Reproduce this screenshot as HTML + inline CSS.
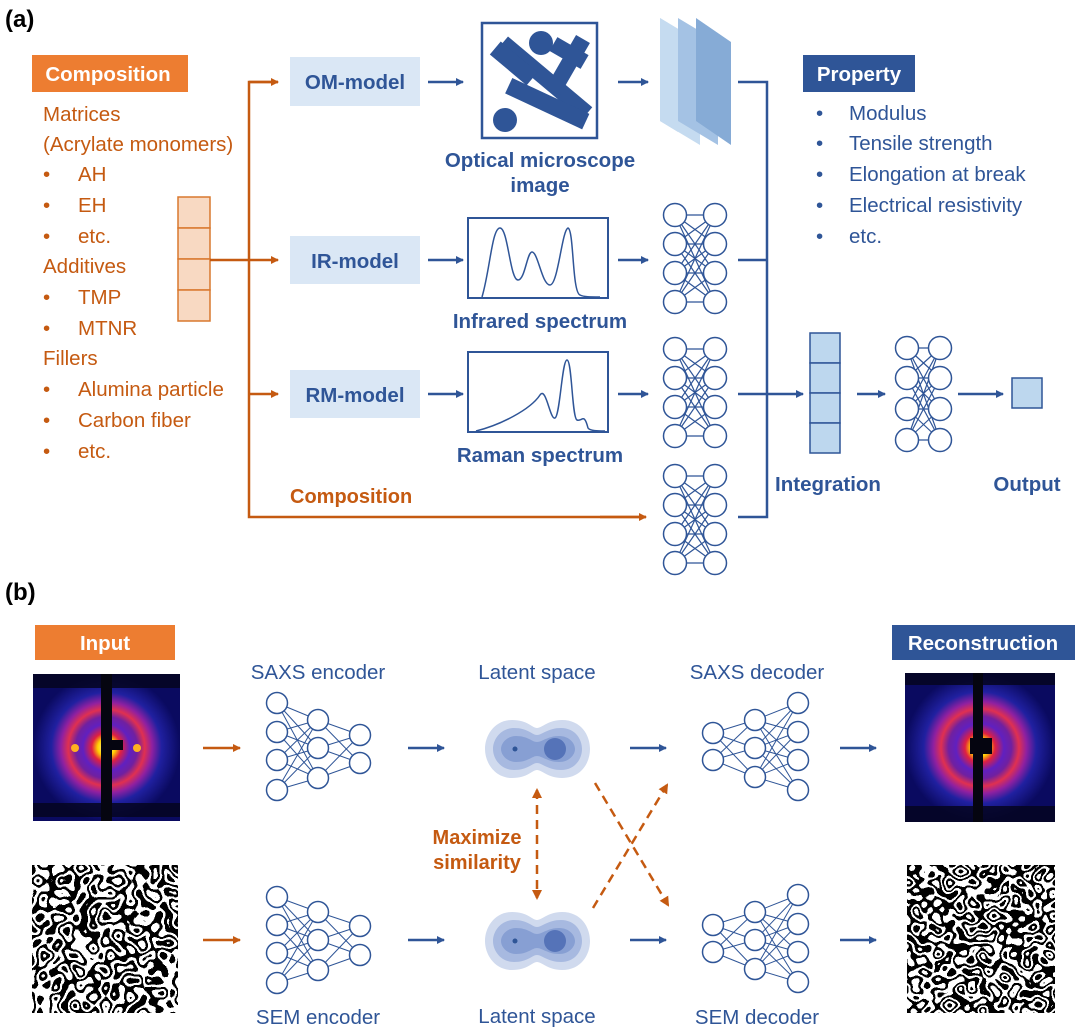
<!DOCTYPE html>
<html><head><meta charset="utf-8"><style>
html,body{margin:0;padding:0;background:#fff;}
svg{display:block;font-family:"Liberation Sans",Arial,sans-serif;}
</style></head><body>
<svg id="s" width="1080" height="1033" viewBox="0 0 1080 1033" xmlns="http://www.w3.org/2000/svg">
<defs>
<marker id="ab" markerWidth="8" markerHeight="8" refX="7" refY="4" orient="auto" markerUnits="userSpaceOnUse"><path d="M0,0 L8,4 L0,8 z" fill="#2F5597"/></marker>
<marker id="ao" markerWidth="8" markerHeight="8" refX="7" refY="4" orient="auto" markerUnits="userSpaceOnUse"><path d="M0,0 L8,4 L0,8 z" fill="#C55A11"/></marker>
<marker id="ao2" markerWidth="10" markerHeight="10" refX="8" refY="5" orient="auto-start-reverse" markerUnits="userSpaceOnUse"><path d="M0,0 L10,5 L0,10 z" fill="#C55A11"/></marker>
<radialGradient id="saxs" cx="0.5" cy="0.5" r="0.5">
<stop offset="0" stop-color="#fff8c0"/><stop offset="0.12" stop-color="#ffd000"/><stop offset="0.2" stop-color="#e02040"/>
<stop offset="0.32" stop-color="#6020c0"/><stop offset="0.42" stop-color="#7020a0"/><stop offset="0.52" stop-color="#e03050"/>
<stop offset="0.62" stop-color="#9020a0"/><stop offset="0.75" stop-color="#2020a0"/><stop offset="1" stop-color="#0a0a60"/>
</radialGradient>
<filter id="lab" x="0" y="0" width="1" height="1">
<feTurbulence type="fractalNoise" baseFrequency="0.08" numOctaves="1" seed="3"/>
<feColorMatrix type="matrix" values="1 0 0 0 0 1 0 0 0 0 1 0 0 0 0 0 0 0 0 1"/>
<feComponentTransfer><feFuncR type="discrete" tableValues="1 0 1 0 1 0 1 0 1 0"/><feFuncG type="discrete" tableValues="1 0 1 0 1 0 1 0 1 0"/><feFuncB type="discrete" tableValues="1 0 1 0 1 0 1 0 1 0"/></feComponentTransfer>
</filter>
<filter id="lab2" x="0" y="0" width="1" height="1">
<feTurbulence type="fractalNoise" baseFrequency="0.09" numOctaves="1" seed="7"/>
<feColorMatrix type="matrix" values="1 0 0 0 0 1 0 0 0 0 1 0 0 0 0 0 0 0 0 1"/>
<feComponentTransfer><feFuncR type="discrete" tableValues="1 0 1 0 1 0 1 0 1 0"/><feFuncG type="discrete" tableValues="1 0 1 0 1 0 1 0 1 0"/><feFuncB type="discrete" tableValues="1 0 1 0 1 0 1 0 1 0"/></feComponentTransfer>
</filter>
</defs>

<text x="5" y="27" font-size="24" font-weight="bold">(a)</text>
<rect x="32" y="55" width="156" height="37" fill="#ED7D31"/>
<text x="108" y="81" font-size="20.5" font-weight="bold" fill="#fff" text-anchor="middle">Composition</text>
<g font-size="20.5" fill="#C55A11">
<text x="43" y="121">Matrices</text>
<text x="43" y="151">(Acrylate monomers)</text>
<text x="43" y="181">•</text><text x="78" y="181">AH</text>
<text x="43" y="212">•</text><text x="78" y="212">EH</text>
<text x="43" y="243">•</text><text x="78" y="243">etc.</text>
<text x="43" y="273">Additives</text>
<text x="43" y="304">•</text><text x="78" y="304">TMP</text>
<text x="43" y="335">•</text><text x="78" y="335">MTNR</text>
<text x="43" y="365">Fillers</text>
<text x="43" y="396">•</text><text x="78" y="396">Alumina particle</text>
<text x="43" y="427">•</text><text x="78" y="427">Carbon fiber</text>
<text x="43" y="458">•</text><text x="78" y="458">etc.</text>
</g>
<g fill="#F8D9C2" stroke="#D9782E" stroke-width="1.5">
<rect x="178" y="197" width="32" height="31"/><rect x="178" y="228" width="32" height="31"/><rect x="178" y="259" width="32" height="31"/><rect x="178" y="290" width="32" height="31"/>
</g>
<g stroke="#C55A11" stroke-width="2.5" fill="none">
<path d="M210,260 H278" marker-end="url(#ao)"/>
<path d="M278,82 H249 V517 H646" />
<path d="M249,82 H278" marker-end="url(#ao)"/>
<path d="M249,394 H278" marker-end="url(#ao)"/>
<path d="M600,517 H646" marker-end="url(#ao)"/>
</g>
<text x="290" y="503" font-size="20" font-weight="bold" fill="#C55A11">Composition</text>

<g fill="#DAE7F5"><rect x="290" y="57" width="130" height="49"/><rect x="290" y="236" width="130" height="48"/><rect x="290" y="370" width="130" height="48"/></g>
<g font-size="20.5" font-weight="bold" fill="#2F5597" text-anchor="middle">
<text x="355" y="89">OM-model</text><text x="355" y="268">IR-model</text><text x="355" y="402">RM-model</text>
<text x="540" y="167">Optical microscope</text><text x="540" y="192">image</text>
<text x="540" y="328">Infrared spectrum</text><text x="540" y="462">Raman spectrum</text>
<text x="828" y="491">Integration</text><text x="1027" y="491">Output</text>
</g>
<g stroke="#2F5597" stroke-width="2.5" fill="none">
<path d="M428,82 H463" marker-end="url(#ab)"/><path d="M428,260 H463" marker-end="url(#ab)"/><path d="M428,394 H463" marker-end="url(#ab)"/>
<path d="M618,82 H648" marker-end="url(#ab)"/><path d="M618,260 H648" marker-end="url(#ab)"/><path d="M618,394 H648" marker-end="url(#ab)"/>
<path d="M738,82 H767 V517 H738 M738,260 H767 M738,394 H767"/>
<path d="M767,394 H803" marker-end="url(#ab)"/>
<path d="M857,394 H885" marker-end="url(#ab)"/>
<path d="M958,394 H1003" marker-end="url(#ab)"/>
</g>
<rect x="482" y="23" width="115" height="115" fill="#fff" stroke="#2F5597" stroke-width="2.5"/>
<g fill="#2F5597">
<rect x="490" y="70" width="110" height="16" transform="rotate(40 545 78)"/>
<rect x="490" y="55" width="48" height="17" transform="rotate(40 514 63)"/>
<circle cx="541" cy="43" r="12"/><circle cx="505" cy="120" r="12"/>
<rect x="560" y="35" width="16" height="60" transform="rotate(30 568 65)"/>
<rect x="551" y="45" width="36" height="16" transform="rotate(30 569 53)"/>
<rect x="505" y="95" width="85" height="17" transform="rotate(25 547 103)"/>
</g>
<polygon points="660,18 700,42 700,145 660,121" fill="#C5DBF0"/>
<polygon points="678,18 718,42 718,145 678,121" fill="#A4C2E4"/>
<polygon points="696,18 731,42 731,145 696,121" fill="#86ABD6"/>
<polygon points="660,18 678,29 678,132 660,121" fill="#C5DBF0"/>
<rect x="468" y="218" width="140" height="80" fill="#fff" stroke="#2F5597" stroke-width="2"/>
<path d="M482,297 C490,270 492,228 500,228 C508,228 510,280 518,280 C525,280 527,252 532,252 C538,252 542,285 550,285 C558,285 562,230 568,228 C574,230 572,292 580,295 C584,297 590,297 600,297" fill="none" stroke="#2F5597" stroke-width="1.5"/>
<rect x="468" y="352" width="140" height="80" fill="#fff" stroke="#2F5597" stroke-width="2"/>
<path d="M476,431 C500,425 530,410 540,395 C546,386 550,420 555,418 C560,416 562,360 567,360 C572,360 572,418 577,420 C582,422 584,412 588,428 C590,431 598,431 605,431" fill="none" stroke="#2F5597" stroke-width="1.5"/>
<g fill="#BDD7EE" stroke="#2F5597" stroke-width="1.5">
<rect x="810" y="333" width="30" height="30"/><rect x="810" y="363" width="30" height="30"/><rect x="810" y="393" width="30" height="30"/><rect x="810" y="423" width="30" height="30"/>
<rect x="1012" y="378" width="30" height="30"/>
</g>
<rect x="803" y="55" width="112" height="37" fill="#2F5597"/>
<text x="859" y="81" font-size="20.5" font-weight="bold" fill="#fff" text-anchor="middle">Property</text>
<g font-size="20.5" fill="#2F5597">
<text x="816" y="120">•</text><text x="849" y="120">Modulus</text>
<text x="816" y="150">•</text><text x="849" y="150">Tensile strength</text>
<text x="816" y="181">•</text><text x="849" y="181">Elongation at break</text>
<text x="816" y="212">•</text><text x="849" y="212">Electrical resistivity</text>
<text x="816" y="243">•</text><text x="849" y="243">etc.</text>
</g>
<g id="nets"></g>

<text x="5" y="600" font-size="24" font-weight="bold">(b)</text>
<rect x="35" y="625" width="140" height="35" fill="#ED7D31"/>
<text x="105" y="650" font-size="20.5" font-weight="bold" fill="#fff" text-anchor="middle">Input</text>
<rect x="892" y="625" width="183" height="35" fill="#2F5597"/>
<text x="983" y="650" font-size="20.5" font-weight="bold" fill="#fff" text-anchor="middle">Reconstruction</text>
<g font-size="20.5" fill="#2F5597" text-anchor="middle">
<text x="318" y="679">SAXS encoder</text><text x="537" y="679">Latent space</text><text x="757" y="679">SAXS decoder</text>
<text x="318" y="1024">SEM encoder</text><text x="537" y="1023">Latent space</text><text x="757" y="1024">SEM decoder</text>
</g>
<g>
<rect x="33" y="674" width="147" height="147" fill="url(#saxs)"/>
<rect x="33" y="674" width="147" height="14" fill="#050520" opacity="0.85"/>
<rect x="33" y="803" width="147" height="14" fill="#050520" opacity="0.85"/>
<rect x="101" y="674" width="11" height="147" fill="#050510"/>
<rect x="101" y="740" width="22" height="10" fill="#050510"/>
<circle cx="75" cy="748" r="4" fill="#ffb020"/><circle cx="137" cy="748" r="4" fill="#ffb020"/>
</g>
<g>
<rect x="905" y="673" width="150" height="149" fill="url(#saxs)"/>
<rect x="905" y="673" width="150" height="12" fill="#050520" opacity="0.85"/>
<rect x="905" y="806" width="150" height="16" fill="#050520" opacity="0.85"/>
<rect x="973" y="673" width="10" height="149" fill="#050510"/>
<rect x="970" y="738" width="22" height="16" fill="#050510"/>
</g>
<rect x="32" y="865" width="146" height="148" filter="url(#lab)"/>
<rect x="907" y="865" width="148" height="148" filter="url(#lab2)"/>
<g stroke="#C55A11" stroke-width="2.5" fill="none">
<path d="M203,748 H240" marker-end="url(#ao)"/><path d="M203,940 H240" marker-end="url(#ao)"/>
</g>
<g stroke="#2F5597" stroke-width="2.5" fill="none">
<path d="M408,748 H444" marker-end="url(#ab)"/><path d="M408,940 H444" marker-end="url(#ab)"/>
<path d="M630,748 H666" marker-end="url(#ab)"/><path d="M630,940 H666" marker-end="url(#ab)"/>
<path d="M840,748 H876" marker-end="url(#ab)"/><path d="M840,940 H876" marker-end="url(#ab)"/>
</g>
<g id="blob1">
<path d="M512,720 C528,720 532,728 537,728 C542,728 548,720 562,720 C581,720 590,735 590,749 C590,763 581,778 562,778 C548,778 542,770 537,770 C532,770 528,778 512,778 C495,778 485,763 485,749 C485,735 495,720 512,720 Z" fill="#D0DAEE"/>
<path d="M514,728 C528,728 532,735 537,735 C542,735 548,728 561,728 C575,728 582,739 582,749 C582,759 575,770 561,770 C548,770 542,763 537,763 C532,763 528,770 514,770 C501,770 493,759 493,749 C493,739 501,728 514,728 Z" fill="#A7B9E0"/>
<path d="M516,736 C528,736 532,742 537,742 C542,742 548,736 559,736 C569,736 575,743 575,749 C575,755 569,762 559,762 C548,762 542,756 537,756 C532,756 528,762 516,762 C507,762 501,755 501,749 C501,743 507,736 516,736 Z" fill="#879FD3"/>
<circle cx="555" cy="749" r="11" fill="#5573B8"/><circle cx="515" cy="749" r="2.5" fill="#2F5597"/>
</g>
<use href="#blob1" x="0" y="192"/>
<g stroke="#C55A11" stroke-width="2.5" fill="none" stroke-dasharray="9,6">
<path d="M537,790 V898" marker-start="url(#ao2)" marker-end="url(#ao2)"/>
<path d="M595,783 L668,905" marker-end="url(#ao2)"/>
<path d="M593,908 L667,785" marker-end="url(#ao2)"/>
</g>
<g font-size="20" font-weight="bold" fill="#C55A11" text-anchor="middle">
<text x="477" y="844">Maximize</text><text x="477" y="869">similarity</text>
</g>
</svg>
<script>
var ns="http://www.w3.org/2000/svg",g=document.getElementById("nets");
function el(t,a){var e=document.createElementNS(ns,t);for(var k in a)e.setAttribute(k,a[k]);g.appendChild(e);}
function net(cols,r,sw){
 for(var i=0;i<cols.length-1;i++){var a=cols[i],b=cols[i+1];
  a.ys.forEach(function(y1){b.ys.forEach(function(y2){el("line",{x1:a.x,y1:y1,x2:b.x,y2:y2,stroke:"#2F5597","stroke-width":sw});});});}
 cols.forEach(function(c){c.ys.forEach(function(y){el("circle",{cx:c.x,cy:y,r:r,fill:"#fff",stroke:"#2F5597","stroke-width":1.5});});});
}
net([{x:675,ys:[215,244,273,302]},{x:715,ys:[215,244,273,302]}],11.5,1.2);
net([{x:675,ys:[349,378,407,436]},{x:715,ys:[349,378,407,436]}],11.5,1.2);
net([{x:675,ys:[476,505,534,563]},{x:715,ys:[476,505,534,563]}],11.5,1.2);
net([{x:907,ys:[348,378,409,440]},{x:940,ys:[348,378,409,440]}],11.5,1.2);
net([{x:277,ys:[703,732,760,790]},{x:318,ys:[720,748,778]},{x:360,ys:[735,763]}],10.5,1);
net([{x:277,ys:[897,925,953,983]},{x:318,ys:[912,940,970]},{x:360,ys:[926,955]}],10.5,1);
net([{x:713,ys:[733,760]},{x:755,ys:[720,748,777]},{x:798,ys:[703,732,760,790]}],10.5,1);
net([{x:713,ys:[925,952]},{x:755,ys:[912,940,969]},{x:798,ys:[895,924,952,982]}],10.5,1);
</script>
</body></html>
